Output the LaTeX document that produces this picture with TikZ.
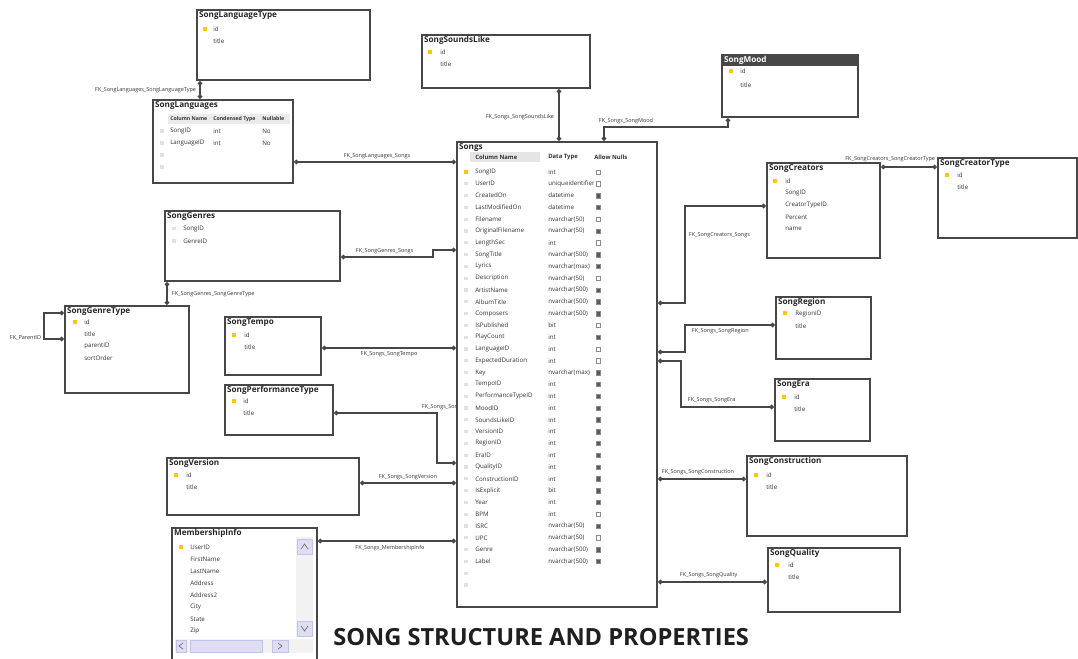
\documentclass[tikz,border=0pt]{standalone}
\usepackage{fontspec}
\setmainfont{Open Sans}
\usetikzlibrary{arrows.meta,fit}
\pgfdeclarelayer{papier}
\pgfdeclarelayer{fond}
\pgfsetlayers{papier,fond,main}

\begin{document}
\begin{tikzpicture}[x=0.025cm,y=-0.025cm]
		\tikzstyle{boite}=[draw=black!72, line width=1.6pt, fill=white, inner sep=0pt]
		\tikzstyle{titre}=[anchor=north west, inner sep=0pt, font=\fontsize{5.8}{6}\selectfont\bfseries, text=black!85]
		\tikzstyle{champ}=[anchor=west, inner sep=0pt, font=\fontsize{4.4}{5}\selectfont, text=black!80]
		\tikzstyle{entete}=[anchor=west, inner sep=0pt, font=\fontsize{4.2}{5}\selectfont\bfseries, text=black!80]
		\tikzstyle{etiq}=[inner sep=0.5pt, font=\fontsize{3.9}{4}\selectfont, text=black!80]
		\tikzstyle{lien}=[draw=black!72, line width=1.2pt, {Circle[open,length=3.2pt]}-{Circle[open,length=3.2pt]}]
		\tikzstyle{cle}=[fill=yellow!60!orange, minimum width=2.2pt, minimum height=3.2pt, inner sep=0pt]
		\tikzstyle{puce}=[fill=black!12, minimum width=3.2pt, minimum height=2.2pt, inner sep=0pt]
		\tikzstyle{nul0}=[draw=black!45, line width=0.3pt, minimum size=3pt, inner sep=0pt]
		\tikzstyle{nul1}=[draw=black!45, line width=0.3pt, fill=black!65, minimum size=3pt, inner sep=0pt]
		\tikzstyle{bouton}=[fill=cyan!15!blue!12, draw=cyan!30!blue!25, line width=0.3pt]
		\begin{pgfonlayer}{papier}
		\fill[white] (0,0) rectangle (1078,658);
		\end{pgfonlayer}
		\useasboundingbox (0,0) rectangle (1078,658);

		% tables, gauche
		\node[boite, fit={(197,10) (370,80)}] (langtype) {};
		\node[titre] (t-langtype) at ([shift={(3,2)}]langtype.north west) {SongLanguageType};
		\node[cle] (k-langtype) at (205,29) {};
		\foreach \f [count=\i] in {id,title}
			\node[champ] (langtype-\i) at (213,{17+12*\i}) {\f};

		\node[boite, fit={(153,100) (293,183)}] (languages) {};
		\node[titre] (t-languages) at ([shift={(3,2)}]languages.north west) {SongLanguages};
		\fill[black!8] (168,114) rectangle (290,124);
		\node[entete, font=\fontsize{3.7}{4}\selectfont\bfseries] (languages-h1) at (170,119) {Column Name};
		\node[entete, font=\fontsize{3.7}{4}\selectfont\bfseries] (languages-h2) at (213,119) {Condensed Type};
		\node[entete, font=\fontsize{3.7}{4}\selectfont\bfseries] (languages-h3) at (262,119) {Nullable};
		\foreach \n/\t/\v [count=\i] in {SongID/int/No, LanguageID/int/No} {
			\node[champ] (languages-n\i) at (170,{119+12*\i}) {\n};
			\node[champ] (languages-t\i) at (213,{119+12*\i}) {\t};
			\node[champ] (languages-v\i) at (262,{119+12*\i}) {\v};
		}
		\foreach \i in {1,...,4}
			\node[puce] (languages-p\i) at (162,{119+12*\i}) {};

		\node[boite, fit={(165,211) (340,281)}] (genres) {};
		\node[titre] (t-genres) at ([shift={(3,2)}]genres.north west) {SongGenres};
		\foreach \f [count=\i] in {SongID,GenreID} {
			\node[puce] (genres-p\i) at (174,{216+12.5*\i}) {};
			\node[champ] (genres-\i) at (183,{216+12.5*\i}) {\f};
		}

		\node[boite, fit={(65,306) (189,393)}] (genretype) {};
		\node[titre] (t-genretype) at ([shift={(3,2)}]genretype.north west) {SongGenreType};
		\node[cle] (k-genretype) at (75,322) {};
		\foreach \f [count=\i] in {id,title,parentID,sortOrder}
			\node[champ] (genretype-\i) at (84,{310+12*\i}) {\f};

		\node[boite, fit={(225,317) (321,375)}] (tempo) {};
		\node[titre] (t-tempo) at ([shift={(3,2)}]tempo.north west) {SongTempo};
		\node[cle] (k-tempo) at (234,335) {};
		\foreach \f [count=\i] in {id,title}
			\node[champ] (tempo-\i) at (244,{323+12*\i}) {\f};

		\node[boite, fit={(225,385) (333,435)}] (perftype) {};
		\node[titre] (t-perftype) at ([shift={(3,2)}]perftype.north west) {SongPerformanceType};
		\node[cle] (k-perftype) at (234,401) {};
		\foreach \f [count=\i] in {id,title}
			\node[champ] (perftype-\i) at (243,{389+12*\i}) {\f};

		\node[boite, fit={(167,458) (359,515)}] (version) {};
		\node[titre] (t-version) at ([shift={(3,2)}]version.north west) {SongVersion};
		\node[cle] (k-version) at (176,475) {};
		\foreach \f [count=\i] in {id,title}
			\node[champ] (version-\i) at (186,{463+12*\i}) {\f};

		\node[boite, fit={(172,528) (317,672)}] (member) {};
		\node[titre] (t-member) at ([shift={(3,2)}]member.north west) {MembershipInfo};
		\node[cle] (k-member) at (181,547) {};
		\foreach \f [count=\i] in {UserID,FirstName,LastName,Address,Address2,City,State,Zip}
			\node[champ] (member-\i) at (190,{535+12*\i}) {\f};
		\fill[black!5] (296,537) rectangle (313,637); % ascenseur
		\draw[bouton] (297,539) rectangle (312,554);
		\draw[bouton] (297,621) rectangle (312,636);
		\draw[black!55, line width=0.5pt] (301,549) -- (304.5,544) -- (308,549);
		\draw[black!55, line width=0.5pt] (301,626) -- (304.5,631) -- (308,626);
		\fill[black!5] (175,639) rectangle (313,653);
		\draw[bouton] (176,640) rectangle (186,652);
		\draw[bouton] (190,640) rectangle (262,652);
		\draw[bouton] (272,640) rectangle (288,652);
		\draw[black!55, line width=0.5pt] (183,643) -- (179,646) -- (183,649);
		\draw[black!55, line width=0.5pt] (278,643) -- (282,646) -- (278,649);

		% tables, haut et droite
		\node[boite, fit={(422,35) (590,88)}] (soundslike) {};
		\node[titre] (t-soundslike) at ([shift={(3,2)}]soundslike.north west) {SongSoundsLike};
		\node[cle] (k-soundslike) at (430,52) {};
		\foreach \f [count=\i] in {id,title}
			\node[champ] (soundslike-\i) at (440,{39.5+12.5*\i}) {\f};

		\node[boite, fit={(722,55) (858,117)}] (mood) {};
		\fill[black!72] (722,55) rectangle (858,66);
		\node[titre, text=white] (t-mood) at ([shift={(3,2)}]mood.north west) {SongMood};
		\node[cle] (k-mood) at (731,71) {};
		\foreach \f [count=\i] in {id,title}
			\node[champ] (mood-\i) at (740,{57+14*\i}) {\f};

		\node[boite, fit={(767,163) (880,258)}] (creators) {};
		\node[titre] (t-creators) at ([shift={(3,2)}]creators.north west) {SongCreators};
		\node[cle] (k-creators) at (775,181) {};
		\foreach \f [count=\i] in {id,SongID,CreatorTypeID,Percent,name}
			\node[champ] (creators-\i) at (785,{169+12*\i}) {\f};

		\node[boite, fit={(938,158) (1077,238)}] (creatortype) {};
		\node[titre] (t-creatortype) at ([shift={(3,2)}]creatortype.north west) {SongCreatorType};
		\node[cle] (k-creatortype) at (947,175) {};
		\foreach \f [count=\i] in {id,title}
			\node[champ] (creatortype-\i) at (957,{163+12*\i}) {\f};

		\node[boite, fit={(776,297) (871,359)}] (region) {};
		\node[titre] (t-region) at ([shift={(3,2)}]region.north west) {SongRegion};
		\node[cle] (k-region) at (785,313) {};
		\foreach \f [count=\i] in {RegionID,title}
			\node[champ] (region-\i) at (795,{301+12.5*\i}) {\f};

		\node[boite, fit={(775,379) (870,441)}] (era) {};
		\node[titre] (t-era) at ([shift={(3,2)}]era.north west) {SongEra};
		\node[cle] (k-era) at (784,397) {};
		\foreach \f [count=\i] in {id,title}
			\node[champ] (era-\i) at (794,{385+12*\i}) {\f};

		\node[boite, fit={(747,456) (907,536)}] (construction) {};
		\node[titre] (t-construction) at ([shift={(3,2)}]construction.north west) {SongConstruction};
		\node[cle] (k-construction) at (756,475) {};
		\foreach \f [count=\i] in {id,title}
			\node[champ] (construction-\i) at (766,{463+12*\i}) {\f};

		\node[boite, fit={(768,548) (900,612)}] (quality) {};
		\node[titre] (t-quality) at ([shift={(3,2)}]quality.north west) {SongQuality};
		\node[cle] (k-quality) at (777,565) {};
		\foreach \f [count=\i] in {id,title}
			\node[champ] (quality-\i) at (788,{553+12*\i}) {\f};

		% table centrale
		\node[boite, fit={(457,142) (657,607)}] (songs) {};
		\node[titre] (t-songs) at ([shift={(3,2)}]songs.north west) {Songs};
		\fill[black!10] (470,152) rectangle (540,162);
		\node[entete] (songs-h1) at (475,157) {Column Name};
		\node[entete] (songs-h2) at (548,157) {Data Type};
		\node[entete] (songs-h3) at (594,157) {Allow Nulls};
		\node[cle] (k-songs) at (466,172) {};
		\foreach \n/\t/\v [count=\i] in {SongID/int/0, UserID/uniqueidentifier/0, CreatedOn/datetime/1,
			LastModifiedOn/datetime/1, Filename/nvarchar(50)/0, OriginalFilename/nvarchar(50)/1,
			LengthSec/int/0, SongTitle/nvarchar(500)/1, Lyrics/nvarchar(max)/1, Description/nvarchar(50)/0,
			ArtistName/nvarchar(500)/1, AlbumTitle/nvarchar(500)/1, Composers/nvarchar(500)/1,
			IsPublished/bit/0, PlayCount/int/1, LanguageID/int/0, ExpectedDuration/int/0,
			Key/nvarchar(max)/1, TempoID/int/1, PerformanceTypeID/int/1, MoodID/int/1, SoundsLikeID/int/1,
			VersionID/int/1, RegionID/int/1, EraID/int/1, QualityID/int/1, ConstructionID/int/1,
			IsExplicit/bit/1, Year/int/1, BPM/int/0, ISRC/nvarchar(50)/1, UPC/nvarchar(50)/0,
			Genre/nvarchar(500)/1, Label/nvarchar(500)/1} {
			\node[champ] (songs-n\i) at (475,{160.2+11.8*\i}) {\n};
			\node[champ] (songs-t\i) at (548,{160.2+11.8*\i}) {\t};
			\node[nul\v] (songs-v\i) at (598,{160.2+11.8*\i}) {};
		}
		\foreach \i in {2,...,36}
			\node[puce] (songs-p\i) at (466,{160.2+11.8*\i}) {};

		\node[anchor=west, inner sep=0pt, font=\fontsize{16.8}{18}\selectfont\bfseries, text=black!88] (titre-general) at (333,637) {SONG STRUCTURE AND PROPERTIES};

		% liens
		\begin{pgfonlayer}{fond}
		\draw[lien] (langtype.south -| 200,0) -- (languages.north -| 200,0);
		\node[etiq, anchor=east] (e-langtype) at (197,90) {FK\_SongLanguages\_SongLanguageType};
		\draw[lien] (languages.east |- 0,162) -- (songs.west |- 0,162);
		\node[etiq, anchor=south] (e-languages) at (377,160) {FK\_SongLanguages\_Songs};
		\draw[lien] (soundslike.south -| 559,0) -- (songs.north -| 559,0);
		\node[etiq, anchor=east] (e-soundslike) at (555,117) {FK\_Songs\_SongSoundsLike};
		\draw[lien] (songs.north -| 604,0) -- (604,127) -- (728,127) -- (mood.south -| 728,0);
		\node[etiq, anchor=south west] (e-mood) at (598,125) {FK\_Songs\_SongMood};
		\draw[lien] (genres.east |- 0,257) -- (433,257) -- (433,250) -- (songs.west |- 0,250);
		\node[etiq, anchor=south west] (e-genres) at (355,255) {FK\_SongGenres\_Songs};
		\draw[lien] (genres.south -| 167,0) -- (genretype.north -| 167,0);
		\node[etiq, anchor=west] (e-genretype) at (171,294) {FK\_SongGenres\_SongGenreType};
		\draw[lien] (genretype.west |- 0,313) -- (44,313) -- (44,339) -- (genretype.west |- 0,339);
		\node[etiq, anchor=east] (e-parent) at (42,338) {FK\_ParentID};
		\draw[lien] (tempo.east |- 0,348) -- (songs.west |- 0,348);
		\node[etiq, anchor=north] (e-tempo) at (389,351) {FK\_Songs\_SongTempo};
		\draw[lien] (perftype.east |- 0,413) -- (437,413) -- (437,463) -- (songs.west |- 0,463);
		\node[etiq, anchor=south west] (e-perftype) at (421,411) {FK\_Songs\_SongPerformanceType};
		\draw[lien] (version.east |- 0,483) -- (songs.west |- 0,483);
		\node[etiq, anchor=south] (e-version) at (408,481) {FK\_Songs\_SongVersion};
		\draw[lien] (member.east |- 0,541) -- (songs.west |- 0,541);
		\node[etiq, anchor=north] (e-member) at (390,544) {FK\_Songs\_MembershipInfo};
		\draw[lien] (songs.east |- 0,303) -- (685,303) -- (685,206) -- (creators.west |- 0,206);
		\node[etiq, anchor=west] (e-creators) at (688,235) {FK\_SongCreators\_Songs};
		\draw[lien] (creators.east |- 0,167) -- (creatortype.west |- 0,167);
		\node[etiq, anchor=south east] (e-creatortype) at (936,163) {FK\_SongCreators\_SongCreatorType};
		\draw[lien] (songs.east |- 0,352) -- (685,352) -- (685,325) -- (region.west |- 0,325);
		\node[etiq, anchor=west] (e-region) at (691,331) {FK\_Songs\_SongRegion};
		\draw[lien] (songs.east |- 0,361) -- (681,361) -- (681,407) -- (era.west |- 0,407);
		\node[etiq, anchor=south west] (e-era) at (687,404) {FK\_Songs\_SongEra};
		\draw[lien] (songs.east |- 0,479) -- (construction.west |- 0,479);
		\node[etiq, anchor=south west] (e-construction) at (661,476) {FK\_Songs\_SongConstruction};
		\draw[lien] (songs.east |- 0,582) -- (quality.west |- 0,582);
		\node[etiq, anchor=south west] (e-quality) at (679,579) {FK\_Songs\_SongQuality};
		\end{pgfonlayer}
	\end{tikzpicture}
\end{document}
